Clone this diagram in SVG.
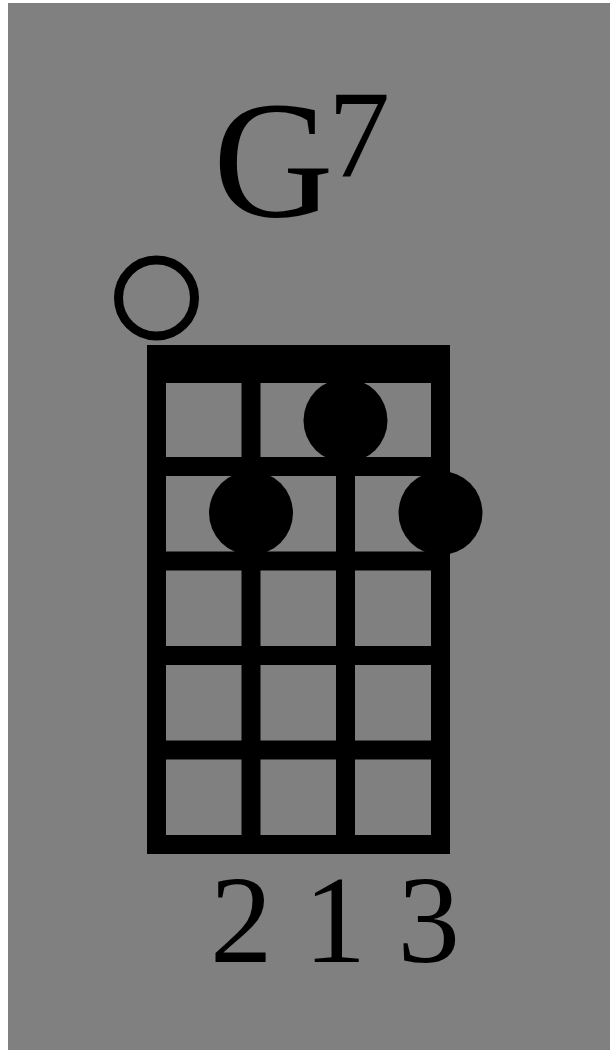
<svg xmlns="http://www.w3.org/2000/svg" width="610" height="1050" viewBox="0 0 610 1050">
  <style>
    .bar { fill: #000; }
    .dot { fill: #000; }
    .open { fill: none; stroke: #000; stroke-width: 9; }
    .txt { font-family: "Liberation Serif", "Times New Roman", serif; fill: #000; }
  </style>
  <rect x="0" y="0" width="610" height="1050" fill="#fff"/>
  <rect id="background" x="8" y="3" width="602" height="1047" fill="#808080"/>

  <g id="title">
    <text class="txt" x="213" y="216" font-size="167">G</text>
    <text class="txt" x="328" y="177" font-size="124">7</text>
  </g>

  <g id="open-string">
    <circle class="open" cx="156.5" cy="298" r="38"/>
  </g>

  <g id="fretboard">
    <rect id="nut" class="bar" x="147" y="345" width="303" height="38"/>
    <rect id="string1" class="bar" x="147" y="345" width="19" height="509"/>
    <rect id="string2" class="bar" x="241.5" y="345" width="19" height="509"/>
    <rect id="string3" class="bar" x="336" y="345" width="19" height="509"/>
    <rect id="string4" class="bar" x="431" y="345" width="19" height="509"/>
    <rect id="fret1" class="bar" x="147" y="457" width="303" height="19"/>
    <rect id="fret2" class="bar" x="147" y="551.5" width="303" height="19"/>
    <rect id="fret3" class="bar" x="147" y="646" width="303" height="19"/>
    <rect id="fret4" class="bar" x="147" y="740.5" width="303" height="19"/>
    <rect id="fret5" class="bar" x="147" y="835" width="303" height="19"/>
  </g>

  <g id="fingers">
    <circle id="finger1" class="dot" cx="345.5" cy="420.5" r="42"/>
    <circle id="finger2" class="dot" cx="251" cy="513" r="42"/>
    <circle id="finger3" class="dot" cx="440.5" cy="513" r="42"/>
  </g>

  <g id="fingering">
    <text class="txt" x="210" y="962" font-size="125">2 1 3</text>
  </g>
</svg>
